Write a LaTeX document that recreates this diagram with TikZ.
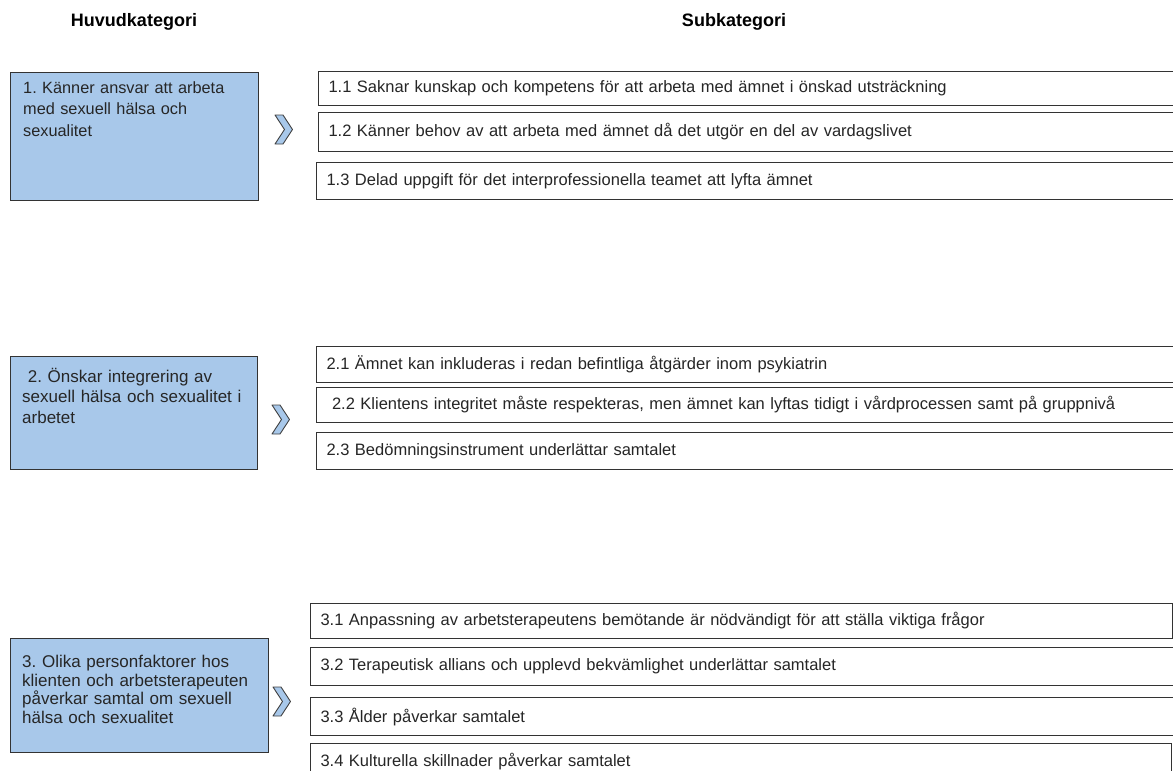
\documentclass[tikz,border=0pt]{standalone}
\usepackage{fontspec}
\setmainfont{Liberation Sans}
\begin{document}
\frenchspacing
\begin{tikzpicture}[x=1pt,y=-1pt,
  mainbox/.style={draw=black!80, line width=1.1pt, fill={rgb,255:red,168;green,200;blue,234}, inner sep=0pt},
  maintext/.style={inner sep=0pt, align=left, text=black!85},
  subbox/.style={draw=black!80, line width=1.1pt, fill=white, inner xsep=10pt, inner ysep=0pt, align=left, font=\fontsize{16.5}{18}\selectfont, text=black!85},
  head/.style={font=\fontsize{18}{20}\selectfont\bfseries, inner sep=0pt},
  chev/.style={draw=black!75, line width=0.9pt, fill={rgb,255:red,168;green,200;blue,234}, line join=round}]
\useasboundingbox (0,0) rectangle (1173,771);

% headings
\node[head, anchor=base] (h1) at (134,26) {Huvudkategori};
\node[head, anchor=base] (h2) at (734,26) {Subkategori};

% main boxes
\node[mainbox, minimum width=248pt, minimum height=128pt, anchor=north west] (m1) at (10,72) {};
\node[maintext, anchor=north west, text width=230pt, font=\fontsize{16.3}{21.7}\selectfont] (t1) at (23,81) {1. Känner ansvar att arbeta\\med sexuell hälsa och\\sexualitet};

\node[mainbox, minimum width=247pt, minimum height=113pt, anchor=north west] (m2) at (10,356) {};
\node[maintext, anchor=north west, text width=232pt, font=\fontsize{17}{20.5}\selectfont] (t2) at (22,368) {\ 2. Önskar integrering av\\sexuell hälsa och sexualitet i\\arbetet};

\node[mainbox, minimum width=258pt, minimum height=114pt, anchor=north west] (m3) at (10,638) {};
\node[maintext, anchor=north west, text width=244pt, font=\fontsize{17}{18.5}\selectfont] (t3) at (22,655) {3. Olika personfaktorer hos\\klienten och arbetsterapeuten\\påverkar samtal om sexuell\\hälsa och sexualitet};

% chevrons
\coordinate (c1) at (275,115);
\coordinate (c2) at (272,405);
\coordinate (c3) at (273,687);
\foreach \c in {c1,c2,c3}{
  \draw[chev] (\c) -- ++(8,0) -- ++(9.5,14.5) -- ++(-9.5,14.5) -- ++(-8,0) -- ++(9.5,-14.5) -- cycle;
}

% sub boxes row 1
\node[subbox, anchor=north west, minimum height=34pt, text width=848pt] (s11) at (318,71) {1.1 Saknar kunskap och kompetens för att arbeta med ämnet i önskad utsträckning};
\node[subbox, anchor=north west, minimum height=39pt, text width=848pt] (s12) at (318,112) {1.2 Känner behov av att arbeta med ämnet då det utgör en del av vardagslivet};
\node[subbox, anchor=north west, minimum height=37pt, text width=850pt] (s13) at (316,162) {1.3 Delad uppgift för det interprofessionella teamet att lyfta ämnet};

% sub boxes row 2
\node[subbox, anchor=north west, minimum height=36pt, text width=850pt] (s21) at (316,346) {2.1 Ämnet kan inkluderas i redan befintliga åtgärder inom psykiatrin};
\node[subbox, anchor=north west, minimum height=35pt, text width=850pt] (s22) at (316,387) {\ 2.2 Klientens integritet måste respekteras, men ämnet kan lyftas tidigt i vårdprocessen samt på gruppnivå};
\node[subbox, anchor=north west, minimum height=37pt, text width=850pt] (s23) at (316,432) {2.3 Bedömningsinstrument underlättar samtalet};

% sub boxes row 3
\node[subbox, anchor=north west, minimum height=35pt, text width=842pt] (s31) at (310,603) {3.1 Anpassning av arbetsterapeutens bemötande är nödvändigt för att ställa viktiga frågor};
\node[subbox, anchor=north west, minimum height=38pt, text width=856pt] (s32) at (310,647) {3.2 Terapeutisk allians och upplevd bekvämlighet underlättar samtalet};
\node[subbox, anchor=north west, minimum height=38pt, text width=856pt] (s33) at (310,697) {3.3 Ålder påverkar samtalet};
\node[subbox, anchor=north west, minimum height=36pt, text width=841pt] (s34) at (310,743) {3.4 Kulturella skillnader påverkar samtalet};
\end{tikzpicture}
\end{document}
